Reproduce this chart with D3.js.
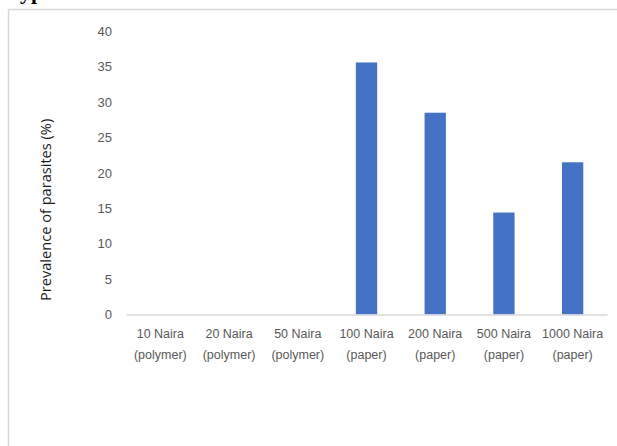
<!DOCTYPE html>
<html>
<head>
<meta charset="utf-8">
<script src="https://cdn.jsdelivr.net/npm/d3@7"></script>
<style>
  html, body { margin: 0; padding: 0; background: #fff; }
  svg { display: block; }
</style>
</head>
<body>
<svg id="chart" width="617" height="446"></svg>
<script>
// Banknote denominations (two-line labels) and parasite prevalence per note
const categories = ["10 Naira", "20 Naira", "50 Naira", "100 Naira", "200 Naira", "500 Naira", "1000 Naira"];
const noteTypes = ["(polymer)", "(polymer)", "(polymer)", "(paper)", "(paper)", "(paper)", "(paper)"];
const prevalence = [0, 0, 0, 35.6, 28.5, 14.4, 21.5];
const yTicks = [0, 5, 10, 15, 20, 25, 30, 35, 40];

const svg = d3.select("#chart");
const W = 617, H = 446;

// Chart area frame
svg.append("rect")
  .attr("x", 8.5).attr("y", 9.5)
  .attr("width", W + 10).attr("height", H + 10)
  .attr("fill", "#fff")
  .attr("stroke", "#d9d9d9").attr("stroke-width", 1.5);

// Heading text above the frame (only its lower part falls inside the page)
svg.append("text")
  .attr("x", 7).attr("y", -1)
  .attr("font-family", "Liberation Serif, serif")
  .attr("font-weight", "bold")
  .attr("font-size", 22)
  .attr("fill", "#000")
  .text("Typ");

const plot = { left: 126, right: 607, top: 31.3, bottom: 314.5 };

const x = d3.scaleBand()
  .domain(categories)
  .range([plot.left, plot.right])
  .padding(0);

const y = d3.scaleLinear()
  .domain([0, 40])
  .range([plot.bottom, plot.top]);

const barW = x.bandwidth() * 0.31;

// Bars
svg.append("g")
  .selectAll("rect")
  .data(categories.map((c, i) => ({ c, v: prevalence[i] })).filter(d => d.v > 0))
  .join("rect")
  .attr("x", d => x(d.c) + x.bandwidth() / 2 - barW / 2)
  .attr("y", d => y(d.v))
  .attr("width", barW)
  .attr("height", d => y(0) - y(d.v))
  .attr("fill", "#4472c4");

// Y axis (labels only)
const yAxis = d3.axisLeft(y)
  .tickValues(yTicks)
  .tickSize(0)
  .tickPadding(0);
const yg = svg.append("g")
  .attr("transform", `translate(${plot.left - 14},0)`)
  .call(yAxis);
yg.select(".domain").remove();
yg.selectAll("text")
  .attr("font-family", "Liberation Sans, Arial, sans-serif")
  .attr("font-size", 13)
  .attr("fill", "#595959");

// X axis baseline
const xAxis = d3.axisBottom(x).tickSize(0).tickFormat(() => "");
const xg = svg.append("g")
  .attr("transform", `translate(0,${plot.bottom})`)
  .call(xAxis);
xg.select(".domain")
  .attr("stroke", "#d9d9d9")
  .attr("stroke-width", 1.5);

// Two-line category labels
const lbl = svg.append("g")
  .selectAll("text")
  .data(categories)
  .join("text")
  .attr("text-anchor", "middle")
  .attr("font-family", "Liberation Sans, Arial, sans-serif")
  .attr("font-size", 12.5)
  .attr("fill", "#595959");
lbl.append("tspan")
  .attr("x", d => x(d) + x.bandwidth() / 2)
  .attr("y", 338)
  .text(d => d);
lbl.append("tspan")
  .attr("x", d => x(d) + x.bandwidth() / 2)
  .attr("y", 359)
  .text((d, i) => noteTypes[i]);

// Y axis title
svg.append("text")
  .attr("transform", `translate(51,${(plot.top + plot.bottom) / 2 + 37}) rotate(-90)`)
  .attr("text-anchor", "middle")
  .attr("font-family", "Open Sans, sans-serif")
  .attr("font-size", 14.6)
  .attr("fill", "#1a1a1a")
  .text("Prevalence of parasites (%)");
</script>
</body>
</html>
